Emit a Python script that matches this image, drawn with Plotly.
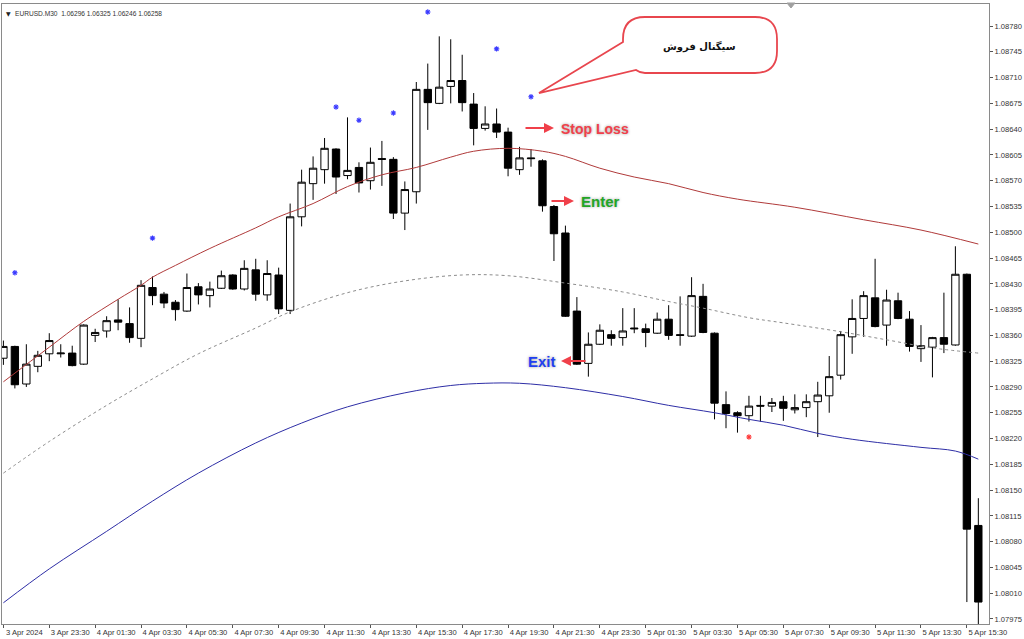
import plotly.graph_objects as go

# ---------------- data ----------------
bar_index = list(range(86))  # 30-minute bars, 3 Apr 21:30 ... 5 Apr 16:00

opens = [1.08329, 1.08345, 1.08294, 1.08318, 1.08335, 1.08335, 1.08336, 1.08321, 1.08360, 1.08366,
         1.08381, 1.08376, 1.08356, 1.08425, 1.08416, 1.08405, 1.08393, 1.08426, 1.08414, 1.08424,
         1.08442, 1.08423, 1.08449, 1.08415, 1.08442, 1.08394, 1.08521, 1.08566, 1.08585, 1.08613,
         1.08577, 1.08588, 1.08570, 1.08600, 1.08599, 1.08526, 1.08555, 1.08694, 1.08675, 1.08698,
         1.08706, 1.08674, 1.08641, 1.08647, 1.08636, 1.08585, 1.08601, 1.08597, 1.08535, 1.08499,
         1.08393, 1.08322, 1.08348, 1.08361, 1.08357, 1.08370, 1.08369, 1.08363, 1.08382, 1.08361,
         1.08359, 1.08413, 1.08363, 1.08266, 1.08255, 1.08251, 1.08265, 1.08264, 1.08270, 1.08259,
         1.08262, 1.08270, 1.08278, 1.08306, 1.08358, 1.08383, 1.08411, 1.08374, 1.08407, 1.08382,
         1.08342, 1.08344, 1.08357, 1.08347, 1.08443, 1.08102]
highs = [1.08353, 1.08346, 1.08348, 1.08339, 1.08363, 1.08348, 1.08346, 1.08375, 1.08369, 1.08386,
         1.08409, 1.08398, 1.08435, 1.08440, 1.08419, 1.08408, 1.08444, 1.08431, 1.08433, 1.08448,
         1.08443, 1.08462, 1.08464, 1.08462, 1.08452, 1.08539, 1.08585, 1.08603, 1.08628, 1.08614,
         1.08656, 1.08595, 1.08615, 1.08624, 1.08602, 1.08569, 1.08704, 1.08729, 1.08766, 1.08762,
         1.08741, 1.08689, 1.08671, 1.08668, 1.08642, 1.08616, 1.08613, 1.08599, 1.08537, 1.08509,
         1.08412, 1.08364, 1.08375, 1.08367, 1.08397, 1.08397, 1.08376, 1.08391, 1.08401, 1.08413,
         1.08439, 1.08430, 1.08364, 1.08284, 1.08257, 1.08278, 1.08278, 1.08275, 1.08278, 1.08280,
         1.08280, 1.08297, 1.08332, 1.08366, 1.08409, 1.08420, 1.08464, 1.08422, 1.08418, 1.08393,
         1.08374, 1.08358, 1.08418, 1.08481, 1.08444, 1.08139]
lows = [1.08320, 1.08288, 1.08290, 1.08310, 1.08325, 1.08330, 1.08318, 1.08320, 1.08351, 1.08357,
        1.08367, 1.08350, 1.08344, 1.08401, 1.08397, 1.08380, 1.08392, 1.08402, 1.08398, 1.08423,
        1.08422, 1.08421, 1.08407, 1.08407, 1.08389, 1.08389, 1.08508, 1.08544, 1.08566, 1.08552,
        1.08572, 1.08554, 1.08558, 1.08563, 1.08518, 1.08503, 1.08539, 1.08639, 1.08674, 1.08675,
        1.08664, 1.08618, 1.08638, 1.08628, 1.08576, 1.08578, 1.08589, 1.08528, 1.08461, 1.08385,
        1.08320, 1.08304, 1.08347, 1.08346, 1.08346, 1.08363, 1.08344, 1.08362, 1.08354, 1.08346,
        1.08358, 1.08363, 1.08246, 1.08234, 1.08228, 1.08243, 1.08243, 1.08256, 1.08244, 1.08254,
        1.08249, 1.08222, 1.08255, 1.08300, 1.08335, 1.08358, 1.08371, 1.08346, 1.08382, 1.08338,
        1.08324, 1.08303, 1.08336, 1.08346, 1.07998, 1.07965]
closes = [1.08345, 1.08293, 1.08321, 1.08333, 1.08353, 1.08336, 1.08319, 1.08374, 1.08364, 1.08380,
          1.08378, 1.08357, 1.08428, 1.08414, 1.08404, 1.08395, 1.08425, 1.08415, 1.08423, 1.08441,
          1.08423, 1.08451, 1.08416, 1.08444, 1.08396, 1.08521, 1.08568, 1.08587, 1.08614, 1.08575,
          1.08584, 1.08567, 1.08595, 1.08599, 1.08526, 1.08558, 1.08694, 1.08676, 1.08697, 1.08706,
          1.08676, 1.08641, 1.08647, 1.08636, 1.08587, 1.08601, 1.08600, 1.08536, 1.08498, 1.08386,
          1.08321, 1.08348, 1.08367, 1.08356, 1.08366, 1.08369, 1.08364, 1.08382, 1.08360, 1.08360,
          1.08414, 1.08364, 1.08268, 1.08254, 1.08251, 1.08264, 1.08264, 1.08269, 1.08261, 1.08262,
          1.08270, 1.08279, 1.08304, 1.08361, 1.08383, 1.08414, 1.08372, 1.08408, 1.08383, 1.08345,
          1.08346, 1.08357, 1.08348, 1.08443, 1.08097, 1.07998]

# moving averages (sampled along the drawn curves)
red_ma_idx = [0, 4, 7, 10, 12, 13, 15, 18, 22, 24, 27, 30, 33, 36, 39, 41, 44, 47, 49, 52,
              55, 58, 61, 64, 69, 75, 80, 85]
red_ma = [1.08297, 1.08344, 1.08379, 1.08409, 1.08428, 1.08439, 1.08455, 1.08478, 1.08506, 1.08521,
          1.08539, 1.08562, 1.08578, 1.08588, 1.08602, 1.08610, 1.08614, 1.08610, 1.08603, 1.08587,
          1.08575, 1.08566, 1.08554, 1.08545, 1.08534, 1.08517, 1.08503, 1.08484]

gray_ma_idx = [0, 4, 9, 13, 17, 22, 25, 30, 35, 40, 44, 49, 54, 58, 61, 65, 68, 73, 77, 81, 85]
gray_ma = [1.08173, 1.08216, 1.08265, 1.08301, 1.08335, 1.08370, 1.08392, 1.08418, 1.08434, 1.08442,
           1.08441, 1.08431, 1.08419, 1.08406, 1.08397, 1.08384, 1.08377, 1.08365, 1.08354, 1.08343,
           1.08336]

blue_ma_idx = [0, 4, 9, 13, 17, 22, 26, 30, 35, 39, 42, 45, 49, 54, 58, 62, 65, 68, 71, 74,
               80, 83, 85]
blue_ma = [1.07997, 1.08043, 1.08094, 1.08135, 1.08173, 1.08214, 1.08241, 1.08263, 1.08282, 1.08292,
           1.08295, 1.08295, 1.08289, 1.08277, 1.08265, 1.08255, 1.08246, 1.08238, 1.08227, 1.08219,
           1.08208, 1.08203, 1.08192]

# fractal-style signal marks
up_sig_idx = [1, 13, 29, 31, 34, 37, 43, 46]
up_sig_val = [1.08445, 1.08492, 1.08670, 1.08652, 1.08662, 1.08799, 1.08749, 1.08684]
dn_sig_idx = [65]
dn_sig_val = [1.08222]

x_tick_idx = list(range(0, 85, 4))
x_tick_text = ["3 Apr 2024", "3 Apr 23:30", "4 Apr 01:30", "4 Apr 03:30", "4 Apr 05:30",
               "4 Apr 07:30", "4 Apr 09:30", "4 Apr 11:30", "4 Apr 13:30", "4 Apr 15:30",
               "4 Apr 17:30", "4 Apr 19:30", "4 Apr 21:30", "4 Apr 23:30", "5 Apr 01:30",
               "5 Apr 03:30", "5 Apr 05:30", "5 Apr 07:30", "5 Apr 09:30", "5 Apr 11:30",
               "5 Apr 13:30", "5 Apr 15:30"]
y_tick_vals = [round(1.07975 + 0.00035 * k, 5) for k in range(24)]
y_tick_text = [f"{v:.5f}" for v in y_tick_vals]

# ---------------- layout geometry ----------------
W, H = 1024, 639
ML, MR, MT, MB = 2, 35, 4, 15
X_RANGE = [-0.122, 85.93]
Y_RANGE = [1.079682, 1.088099]
PW, PH = W - ML - MR, H - MT - MB


def px_x(px):
    """pixel -> data x"""
    return X_RANGE[0] + (px - ML) / PW * (X_RANGE[1] - X_RANGE[0])


def px_y(py):
    """pixel -> data y"""
    return Y_RANGE[1] - (py - MT) / PH * (Y_RANGE[1] - Y_RANGE[0])


def paper_x(px):
    return (px - ML) / PW


def paper_y(py):
    return 1 - (py - MT) / PH


fig = go.Figure()

fig.add_trace(go.Scatter(x=blue_ma_idx, y=blue_ma, mode="lines",
                         line=dict(color="#2e2ea6", width=1, shape="spline"), hoverinfo="skip"))
fig.add_trace(go.Scatter(x=gray_ma_idx, y=gray_ma, mode="lines",
                         line=dict(color="#8c8c8c", width=1, dash="dot", shape="spline"),
                         hoverinfo="skip"))
fig.add_trace(go.Scatter(x=red_ma_idx, y=red_ma, mode="lines",
                         line=dict(color="#b03a3a", width=1, shape="spline"), hoverinfo="skip"))

fig.add_trace(go.Candlestick(
    x=bar_index, open=opens, high=highs, low=lows, close=closes,
    increasing=dict(line=dict(color="#000000", width=1), fillcolor="#ffffff"),
    decreasing=dict(line=dict(color="#000000", width=1), fillcolor="#000000"),
    whiskerwidth=0, hoverinfo="skip",
))

fig.add_trace(go.Scatter(x=up_sig_idx, y=up_sig_val, mode="markers",
                         marker=dict(symbol="asterisk-open", size=4.5, color="#3a3aff",
                                     line=dict(color="#3a3aff", width=1.1)),
                         hoverinfo="skip"))
fig.add_trace(go.Scatter(x=dn_sig_idx, y=dn_sig_val, mode="markers",
                         marker=dict(symbol="asterisk-open", size=4.5, color="#ff3a3a",
                                     line=dict(color="#ff3a3a", width=1.1)),
                         hoverinfo="skip"))


# ---------------- speech bubble ----------------
def P(px, py):
    return f"{paper_x(px):.5f},{paper_y(py):.5f}"


L_, R_, T_, B_, r_ = 623, 777, 17, 73, 22
bubble = (f"M {P(L_, 42)} L {P(539, 93)} L {P(636, 70)} Q {P(640, B_)} {P(L_ + r_, B_)} "
          f"L {P(R_ - r_, B_)} Q {P(R_, B_)} {P(R_, B_ - r_)} L {P(R_, T_ + r_)} "
          f"Q {P(R_, T_)} {P(R_ - r_, T_)} L {P(L_ + r_, T_)} Q {P(L_, T_)} {P(L_, T_ + r_)} Z")
fig.add_shape(type="path", path=bubble, xref="paper", yref="paper",
              line=dict(color="#e8464e", width=1.8), fillcolor="#ffffff", layer="above")

# small MT4 shift marker on top border
tri = f"M {P(787, 3)} L {P(795, 3)} L {P(791, 8)} Z"
fig.add_shape(type="path", path=tri, xref="paper", yref="paper",
              line=dict(color="#a0a0a0", width=1), fillcolor="#a0a0a0", layer="above")

ann = []
ann.append(dict(x=paper_x(699), y=paper_y(46), xref="paper", yref="paper", text="<b>سیگنال فروش</b>",
                xanchor="center", yanchor="middle",
                showarrow=False, font=dict(family="DejaVu Sans", size=10, weight=700, color="#111111")))

# header
ann.append(dict(x=paper_x(4), y=paper_y(8), xref="paper", yref="paper", xanchor="left",
                text="▼", showarrow=False, font=dict(family="DejaVu Sans", size=6, color="#222222")))
ann.append(dict(x=paper_x(13), y=paper_y(8.5), xref="paper", yref="paper", xanchor="left",
                text="EURUSD.M30  1.06296 1.06325 1.06246 1.06258", showarrow=False,
                font=dict(family="Liberation Sans", size=6.6, color="#333333")))

glow = "0px 0px 3px #9a9a9a"
# Stop Loss
ann.append(dict(x=px_x(554), y=px_y(128), ax=-30, ay=0, xref="x", yref="y", text="", showarrow=True,
                arrowhead=2, arrowsize=1, arrowwidth=2, arrowcolor="#f0404a"))
ann.append(dict(x=px_x(559), y=px_y(129), xref="x", yref="y", xanchor="left", text="<b>Stop Loss</b>",
                showarrow=False, font=dict(family="Liberation Sans", size=14, color="#f0404a", shadow=glow)))
# Enter
ann.append(dict(x=px_x(574), y=px_y(201), ax=-24, ay=0, xref="x", yref="y", text="", showarrow=True,
                arrowhead=2, arrowsize=1, arrowwidth=2, arrowcolor="#f0404a"))
ann.append(dict(x=px_x(579), y=px_y(201), xref="x", yref="y", xanchor="left", text="<b>Enter</b>",
                showarrow=False, font=dict(family="Liberation Sans", size=15, color="#22a526", shadow=glow)))
# Exit
ann.append(dict(x=px_x(561), y=px_y(361), ax=26, ay=0, xref="x", yref="y", text="", showarrow=True,
                arrowhead=2, arrowsize=1, arrowwidth=2, arrowcolor="#f0404a"))
ann.append(dict(x=px_x(558), y=px_y(361), xref="x", yref="y", xanchor="right", text="<b>Exit</b>",
                showarrow=False, font=dict(family="Liberation Sans", size=15, color="#1f3ff0", shadow=glow)))

tick_font = dict(family="Liberation Sans", size=7.6, color="#333333")

fig.update_layout(
    template="none",
    width=W, height=H,
    margin=dict(l=ML, r=MR, t=MT, b=MB, pad=0, autoexpand=False),
    paper_bgcolor="#ffffff", plot_bgcolor="#ffffff",
    showlegend=False,
    hovermode=False,
    boxgap=0.2, boxgroupgap=0.2,
    annotations=ann,
    xaxis=dict(range=X_RANGE, showgrid=False, zeroline=False, rangeslider=dict(visible=False),
               automargin=False,
               tickmode="array", tickvals=x_tick_idx, ticktext=x_tick_text,
               ticks="outside", ticklen=3, tickcolor="#555555", tickfont=tick_font,
               ticklabelshift=21, ticklabelstandoff=-2,
               showline=True, linecolor="#8a8a8a", linewidth=1, mirror=True),
    yaxis=dict(range=Y_RANGE, side="right", showgrid=False, zeroline=False, automargin=False,
               tickmode="array", tickvals=y_tick_vals, ticktext=y_tick_text,
               ticks="outside", ticklen=3, tickcolor="#555555", tickfont=tick_font,
               ticklabelstandoff=0,
               showline=True, linecolor="#8a8a8a", linewidth=1, mirror=True),
)

fig.write_html("out.html",
               config={"displayModeBar": False},
               post_script="document.body.style.margin='0';document.body.style.overflow='hidden';")
